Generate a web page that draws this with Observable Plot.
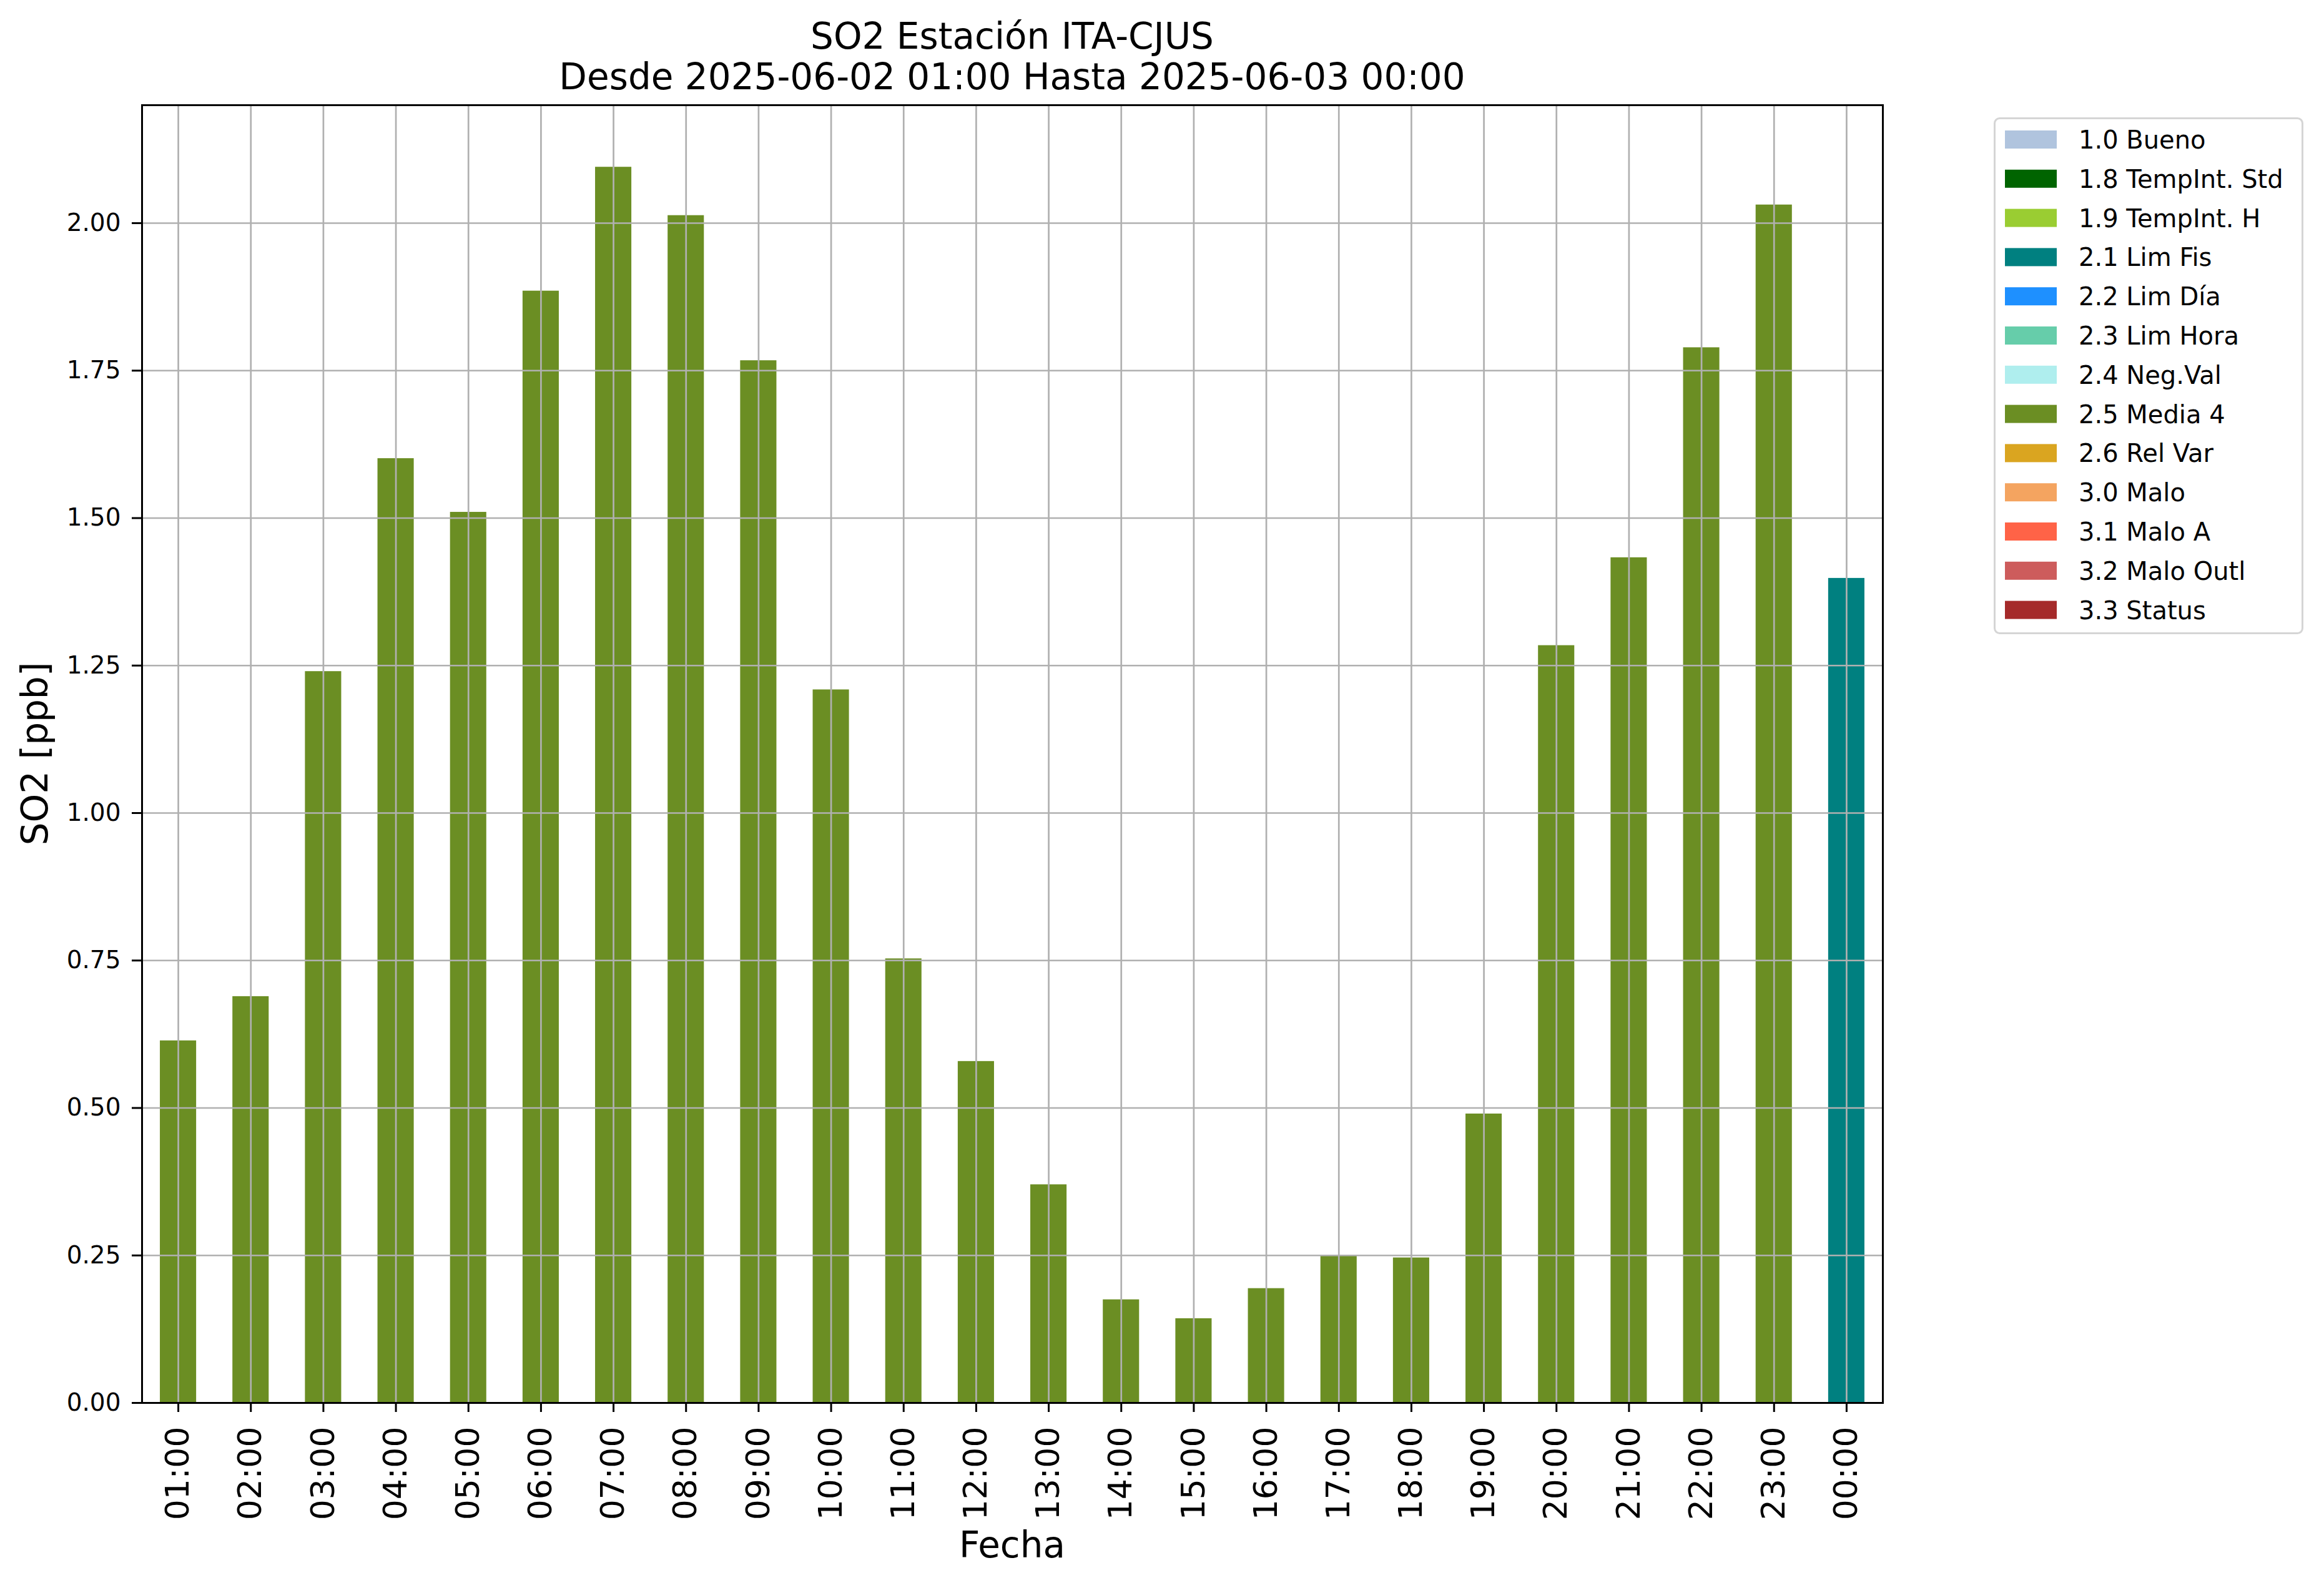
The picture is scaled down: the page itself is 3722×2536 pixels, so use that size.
<!DOCTYPE html>
<html>
<head>
<meta charset="utf-8">
<script src="https://cdn.jsdelivr.net/npm/d3@7"></script>
<script src="https://cdn.jsdelivr.net/npm/@observablehq/plot@0.6"></script>
<style>
  html, body { margin: 0; padding: 0; background: white; }
  #wrap { position: relative; width: 3722px; height: 2536px; background: white; font-family: "DejaVu Sans", sans-serif; }
  #wrap > svg { position: absolute; left: 0; top: 0; }
  #overlay { pointer-events: none; }
</style>
</head>
<body>
<div id="wrap"></div>
<script>
// ---- data ----
const hours = ["01:00","02:00","03:00","04:00","05:00","06:00","07:00","08:00","09:00","10:00","11:00","12:00",
               "13:00","14:00","15:00","16:00","17:00","18:00","19:00","20:00","21:00","22:00","23:00","00:00"];
const so2Values = [0.614, 0.689, 1.240, 1.601, 1.510, 1.885, 2.095, 2.013, 1.767, 1.209, 0.753, 0.579,
                   0.370, 0.175, 0.143, 0.194, 0.249, 0.246, 0.490, 1.284, 1.433, 1.789, 2.031, 1.398];
const barFlags = ["2.5 Media 4","2.5 Media 4","2.5 Media 4","2.5 Media 4","2.5 Media 4","2.5 Media 4",
                  "2.5 Media 4","2.5 Media 4","2.5 Media 4","2.5 Media 4","2.5 Media 4","2.5 Media 4",
                  "2.5 Media 4","2.5 Media 4","2.5 Media 4","2.5 Media 4","2.5 Media 4","2.5 Media 4",
                  "2.5 Media 4","2.5 Media 4","2.5 Media 4","2.5 Media 4","2.5 Media 4","2.1 Lim Fis"];
const flagLabels = ["1.0 Bueno","1.8 TempInt. Std","1.9 TempInt. H","2.1 Lim Fis","2.2 Lim Día","2.3 Lim Hora",
                    "2.4 Neg.Val","2.5 Media 4","2.6 Rel Var","3.0 Malo","3.1 Malo A","3.2 Malo Outl","3.3 Status"];
const flagColors = ["#b0c4de","#006400","#9acd32","#008080","#1e90ff","#66cdaa",
                    "#afeeee","#6b8e23","#daa520","#f4a460","#ff6347","#cd5c5c","#a52a2a"];
const yTicks = [0, 0.25, 0.5, 0.75, 1.0, 1.25, 1.5, 1.75, 2.0];
const titleLines = ["SO2 Estación ITA-CJUS", "Desde 2025-06-02 01:00 Hasta 2025-06-03 00:00"];
const xLabel = "Fecha";
const yLabel = "SO2 [ppb]";

const table = hours.map((h, i) => ({hour: h, value: so2Values[i], flag: barFlags[i]}));

// ---- chart ----
const W = 3722, H = 2536;
const mL = 227, mR = 707, mT = 168, mB = 289;
const chart = Plot.plot({
  width: W, height: H,
  marginLeft: mL, marginRight: mR, marginTop: mT, marginBottom: mB,
  style: {fontFamily: "DejaVu Sans, sans-serif", background: "white", color: "black", overflow: "visible"},
  x: {type: "band", domain: hours, paddingInner: 0.5, paddingOuter: 0.25, align: 0.5, round: false, label: null},
  y: {domain: [0, 2.2], label: null},
  color: {domain: flagLabels, range: flagColors},
  marks: [
    Plot.barY(table, {x: "hour", y: "value", fill: "flag"}),
    Plot.gridX({stroke: "#b0b0b0", strokeOpacity: 1, strokeWidth: 2.7}),
    Plot.gridY(yTicks, {stroke: "#b0b0b0", strokeOpacity: 1, strokeWidth: 2.7}),
    Plot.axisX({anchor: "bottom", tickSize: 15, tickPadding: 23, tickRotate: -90, fontSize: 52,
                strokeWidth: 3, label: null}),
    Plot.axisY(yTicks, {anchor: "left", tickSize: 16, tickPadding: 18, fontSize: 39,
                strokeWidth: 3, tickFormat: d3.format(".2f"), label: null}),
    Plot.frame({stroke: "black", strokeWidth: 3})
  ]
});
const wrap = document.getElementById("wrap");
wrap.appendChild(chart);

// ---- titles, axis labels, legend (text overlay) ----
const colorScale = chart.scale("color");
const cx = mL + (W - mL - mR) / 2;
const cy = mT + (H - mT - mB) / 2;
const ns = "http://www.w3.org/2000/svg";
const ov = d3.create("svg").attr("id", "overlay").attr("xmlns", ns)
  .attr("width", W).attr("height", H)
  .style("font-family", "DejaVu Sans, sans-serif");

ov.append("text").attr("x", cx).attr("y", 78).attr("text-anchor", "middle")
  .attr("font-size", 58).attr("fill", "black").text(titleLines[0]);
ov.append("text").attr("x", cx).attr("y", 143).attr("text-anchor", "middle")
  .attr("font-size", 58).attr("fill", "black").text(titleLines[1]);
ov.append("text").attr("x", cx).attr("y", 2495).attr("text-anchor", "middle")
  .attr("font-size", 58).attr("fill", "black").text(xLabel);
ov.append("text").attr("transform", `translate(76,${cy}) rotate(-90)`).attr("text-anchor", "middle")
  .attr("font-size", 58).attr("fill", "black").text(yLabel);

// legend
const lg = ov.append("g");
lg.append("rect").attr("x", 3194.5).attr("y", 189.5).attr("width", 493).attr("height", 825)
  .attr("rx", 8).attr("fill", "white").attr("stroke", "#d5d5d5").attr("stroke-width", 3);
flagLabels.forEach((lab, i) => {
  const yc = 223.5 + i * 62.8;
  lg.append("rect").attr("x", 3211).attr("y", yc - 14.5).attr("width", 83).attr("height", 29)
    .attr("fill", colorScale.apply(lab));
  lg.append("text").attr("x", 3329).attr("y", yc + 14.5).attr("font-size", 40).attr("fill", "black").text(lab);
});
wrap.appendChild(ov.node());
</script>
</body>
</html>
